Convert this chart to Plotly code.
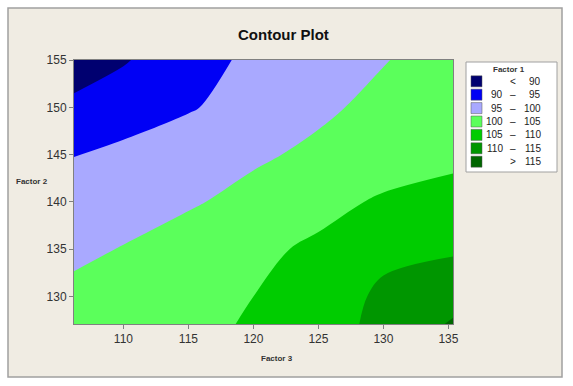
import plotly.graph_objects as go

# ---- data ----
factor3 = [106.2, 110, 115, 120, 125, 130, 135.35]          # x grid
factor2 = [127.1, 130, 135, 140, 145, 150, 155]              # y grid
factor1 = [                                                  # z rows (by factor2)
    [102.3, 103.3, 104.2, 105.3, 107.8, 111.3, 115.5],
    [101.1, 102.2, 103.6, 105.0, 107.6, 110.8, 113.3],
    [99.05, 100.2, 102.1, 104.0, 105.8, 109.0, 109.4],
    [97.0, 98.1, 99.5, 101.4, 103.6, 105.6, 106.5],
    [94.9, 96.1, 97.7, 99.3, 100.9, 102.6, 104.0],
    [91.1, 92.6, 94.6, 96.9, 99.2, 101.15, 103.0],
    [87.4, 89.6, 93.0, 96.0, 97.8, 99.8, 101.9],
]
band_colors = ["#000070", "#0000F5", "#A9A9FF", "#5BFF5B", "#00CC00", "#009600", "#006600"]
legend_low = ["", "90", "95", "100", "105", "110", ""]
legend_sym = ["<", "\u2013", "\u2013", "\u2013", "\u2013", "\u2013", ">"]
legend_high = ["90", "95", "100", "105", "110", "115", "115"]
x_ticks = [110, 115, 120, 125, 130, 135]
y_ticks = [130, 135, 140, 145, 150, 155]

W, H = 573, 386
L, R, T, B = 74, 453, 60, 324


def px(x):
    return (x - L) / (R - L)


def py(y):
    return (B - y) / (B - T)


n = len(band_colors)
colorscale = [[i / (n - 1), c] for i, c in enumerate(band_colors)]

fig = go.Figure(go.Contour(
    x=factor3, y=factor2, z=factor1,
    colorscale=colorscale, showscale=False,
    contours=dict(start=90, end=115, size=5, coloring="fill", showlines=False),
    line=dict(smoothing=1, width=0),
    hoverinfo="skip",
))

shapes = [
    # outer frame
    dict(type="rect", xref="paper", yref="paper", x0=px(8), x1=px(562), y0=py(377), y1=py(8),
         fillcolor="#F0ECE3", line=dict(color="#A0A0A0", width=1.5), layer="below"),
    # legend box
    dict(type="rect", xref="paper", yref="paper", x0=px(466), x1=px(557), y0=py(172), y1=py(62),
         fillcolor="white", line=dict(color="#A0A0A0", width=1), layer="below"),
]


def ann(text, x, y, size, xanchor="center", color="#333"):
    return dict(text=text, x=px(x), y=py(y), xref="paper", yref="paper",
                xanchor=xanchor, yanchor="middle", showarrow=False,
                font=dict(family="Liberation Sans", size=size, color=color))


annotations = [
    ann("<b>Contour Plot</b>", 283, 34, 15, color="#111"),
    ann("<b>Factor 3</b>", 277, 358, 8),
    ann("<b>Factor 2</b>", 32, 181, 8),
    ann("<b>Factor 1</b>", 509, 70, 8),
]
row0, step = 81.3, 13.4
for i, c in enumerate(band_colors):
    yc = row0 + i * step
    shapes.append(dict(type="rect", xref="paper", yref="paper", x0=px(471), x1=px(482),
                       y0=py(yc + 5.5), y1=py(yc - 5.5), fillcolor=c,
                       line=dict(color="#555", width=0.5)))
    if legend_low[i]:
        annotations.append(ann(legend_low[i], 505, yc, 10, "right", "#222"))
    annotations.append(ann(legend_sym[i], 513, yc, 10, "center", "#222"))
    annotations.append(ann(legend_high[i], 543, yc, 10, "right", "#222"))

axis_common = dict(showline=True, linecolor="#808080", linewidth=1, mirror=True,
                   ticks="outside", ticklen=4, tickcolor="#808080", showgrid=False, zeroline=False,
                   tickfont=dict(family="Liberation Sans", size=12, color="#333"))
fig.update_layout(
    width=W, height=H, margin=dict(l=L, r=W - R, t=T, b=H - B),
    paper_bgcolor="white", plot_bgcolor="#F0ECE3",
    xaxis=dict(range=[106.2, 135.35], tickvals=x_ticks, **axis_common),
    yaxis=dict(range=[127.1, 155], tickvals=y_ticks, **axis_common),
    shapes=shapes, annotations=annotations, showlegend=False,
)
fig.write_html("out.html")
